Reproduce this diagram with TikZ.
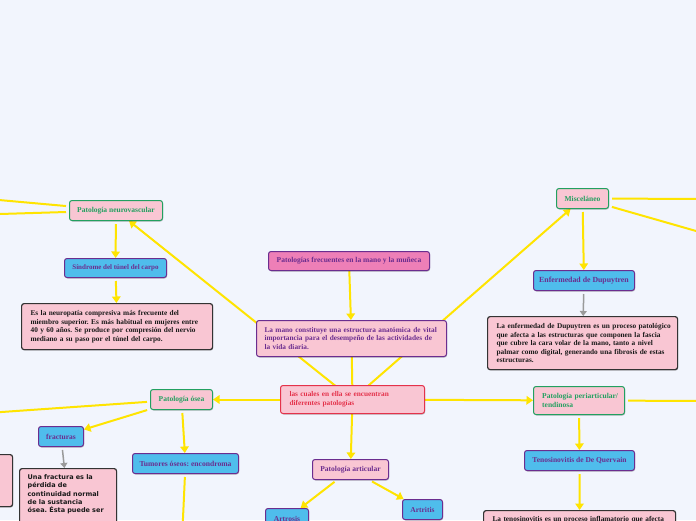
\documentclass[tikz,border=0pt]{standalone}
\usepackage{fontspec}
\setmainfont{Liberation Serif}
\newfontfamily\vsans{DejaVu Sans}
\usetikzlibrary{arrows.meta,shadows}
\definecolor{bgc}{HTML}{F2F5FD}
\definecolor{ylw}{HTML}{FFE400}
\definecolor{pinkf}{HTML}{F9C6D3}
\definecolor{grn}{HTML}{22A060}
\definecolor{bluef}{HTML}{4FBDEC}
\definecolor{purp}{HTML}{6B2D8F}
\definecolor{titlef}{HTML}{EE7FB7}
\definecolor{redc}{HTML}{E4324B}
\definecolor{darkb}{HTML}{333333}
\definecolor{grayc}{HTML}{9A9A9A}
\pgfdeclarelayer{bglayer}
\pgfdeclarelayer{edgelayer}
\pgfsetlayers{bglayer,edgelayer,main}
\frenchspacing
\begin{document}
\begin{tikzpicture}[x=1pt,y=-1pt,
  boxbase/.style={rounded corners=2.5pt, line width=1pt, inner sep=0pt, anchor=north west,
    font=\bfseries\fontsize{7.5}{8.5}\selectfont,
    drop shadow={shadow xshift=0.6pt, shadow yshift=-1pt, opacity=0.25, fill=black}},
  catnode/.style={boxbase, fill=pinkf, draw=grn, text=grn},
  subnode/.style={boxbase, fill=bluef, draw=purp, text=purp},
  purpnode/.style={boxbase, fill=pinkf, draw=purp, text=purp},
  titlenode/.style={boxbase, fill=titlef, draw=purp, text=purp},
  rednode/.style={boxbase, fill=pinkf, draw=redc, text=redc},
  descbox/.style={boxbase, fill=pinkf, draw=darkb, line width=1.2pt, text=black!90},
  multi/.style={align=left, inner xsep=#1, font=\bfseries\fontsize{7.3}{8.5}\selectfont},
  link/.style={draw=ylw, line width=2pt},
  linkarrow/.style={link, -{Triangle[width=8.5pt,length=6.5pt]}},
  grayarrow/.style={draw=grayc, line width=1.5pt, -{Triangle[width=7pt,length=5pt]}}
]
\useasboundingbox (0,0) rectangle (696,520);
\begin{pgfonlayer}{bglayer}
\fill[bgc] (0,0) rectangle (696,520);
\end{pgfonlayer}

% central nodes
\node[titlenode, minimum width=161pt, minimum height=19pt] (title) at (268,251) {Patologías frecuentes en la mano y la muñeca};
\node[purpnode, multi=8pt, text width=174pt, minimum height=36pt] (mano) at (256,320)
  {\mbox{La mano constituye una estructura anatómica de vital}\\\mbox{importancia para el desempeño de las actividades de}\\\mbox{la vida diaria.}};
\node[rednode, multi=9pt, text width=126pt, minimum height=28pt] (cuales) at (280,385)
  {\mbox{las cuales en ella se encuentran}\\\mbox{diferentes patologías}};

% neurovascular branch
\node[catnode, minimum width=93pt, minimum height=20pt] (neuro) at (69,200) {Patología neurovascular};
\node[subnode, minimum width=102pt, minimum height=19pt, font=\bfseries\fontsize{7}{8}\selectfont] (sindrome) at (64,258) {Síndrome del túnel del carpo};
\node[descbox, multi=9pt, text width=173pt, minimum height=46pt] (neurodesc) at (21,303)
  {\mbox{Es la neuropatía compresiva más frecuente del}\\\mbox{miembro superior. Es más habitual en mujeres entre}\\\mbox{40 y 60 años. Se produce por compresión del nervio}\\\mbox{mediano a su paso por el túnel del carpo.}};

% miscelaneo branch
\node[catnode, minimum width=52pt, minimum height=20pt] (misc) at (556,188) {Misceláneo};
\node[subnode, minimum width=101pt, minimum height=20pt, font=\bfseries\fontsize{7.8}{9}\selectfont] (dupuy) at (533,270) {Enfermedad de Dupuytren};
\node[descbox, multi=9pt, text width=172pt, minimum height=53pt] (dupdesc) at (487,316)
  {\mbox{La enfermedad de Dupuytren es un proceso patológico}\\\mbox{que afecta a las estructuras que componen la fascia}\\\mbox{que cubre la cara volar de la mano, tanto a nivel}\\\mbox{palmar como digital, generando una fibrosis de estas}\\\mbox{estructuras.}};

% osea branch
\node[catnode, minimum width=62pt, minimum height=20pt] (osea) at (150,389) {Patología ósea};
\node[subnode, minimum width=45pt, minimum height=20pt] (fract) at (38,426) {fracturas};
\node[subnode, minimum width=106pt, minimum height=20pt, font=\bfseries\fontsize{7.6}{8.5}\selectfont] (tumor) at (132,453) {Tumores óseos: encondroma};
\node[descbox, align=left, inner xsep=8pt, inner ysep=6pt, text width=81pt,
  font=\vsans\bfseries\fontsize{6.5}{8.3}\selectfont] (fracdesc) at (19,468)
  {\mbox{Una fractura es la}\\\mbox{pérdida de}\\\mbox{continuidad normal}\\\mbox{de la sustancia}\\\mbox{ósea. Ésta puede ser}\\\mbox{}\\\mbox{}};
\node[descbox, minimum width=32pt, minimum height=52pt] (leftbox) at (-20,454) {};

% articular branch
\node[purpnode, minimum width=76pt, minimum height=20pt] (articular) at (312,459) {Patología articular};
\node[subnode, minimum width=43pt, minimum height=20pt] (artrosis) at (265,508) {Artrosis};
\node[subnode, minimum width=40pt, minimum height=20pt] (artritis) at (402,499) {Artritis};

% periarticular branch
\node[catnode, align=left, inner xsep=8.7pt, text width=73.6pt, minimum height=28pt] (peri) at (533,386)
  {\mbox{Patología periarticular/}\\\mbox{tendinosa}};
\node[subnode, minimum width=110pt, minimum height=20pt] (teno) at (524,450) {Tenosinovitis de De Quervain};
\node[descbox, multi=9pt, inner ysep=6pt, text width=174pt] (tenodesc) at (483,510)
  {\mbox{La tenosinovitis es un proceso inflamatorio que afecta}\\\mbox{}\\\mbox{}};

% off-canvas ends
\coordinate (nvA) at (-20,198.3);
\coordinate (nvB) at (-20,214.6);
\coordinate (mA) at (716,199);
\coordinate (mB) at (716,236.7);
\coordinate (oA) at (-20,413.5);
\coordinate (pA) at (716,401);
\coordinate (tumorchild) at (182,540);

\begin{pgfonlayer}{edgelayer}
\draw[linkarrow] (title) -- (mano);
\draw[link] (mano.center) -- (cuales.center);
\draw[linkarrow] (cuales.center) -- (neuro);
\draw[linkarrow] (cuales.center) -- (misc);
\draw[linkarrow] (cuales.center) -- (osea);
\draw[linkarrow] (cuales.center) -- (peri);
\draw[linkarrow] (cuales.center) -- (articular);
\draw[linkarrow, shorten <=3pt] (neuro) -- (sindrome);
\draw[linkarrow, shorten <=3pt] (sindrome) -- (neurodesc);
\draw[link, shorten <=3pt] (neuro) -- (nvA);
\draw[link, shorten <=3pt] (neuro) -- (nvB);
\draw[linkarrow, shorten <=3pt] (misc) -- (dupuy);
\draw[grayarrow, shorten <=3pt] (dupuy) -- (dupdesc);
\draw[link, shorten <=3pt] (misc) -- (mA);
\draw[link, shorten <=3pt] (misc) -- (mB);
\draw[link, shorten <=3pt] (osea) -- (oA);
\draw[linkarrow, shorten <=3pt] (osea) -- (fract);
\draw[linkarrow, shorten <=3pt] (osea) -- (tumor);
\draw[grayarrow, shorten <=3pt] (fract) -- (fracdesc);
\draw[link, shorten <=3pt] (tumor) -- (tumorchild);
\draw[linkarrow, shorten <=3pt] (articular) -- (artrosis);
\draw[linkarrow, shorten <=3pt] (articular) -- (artritis);
\draw[link, shorten <=3pt] (peri) -- (pA);
\draw[linkarrow, shorten <=3pt] (peri) -- (teno);
\draw[linkarrow, shorten <=3pt] (teno) -- (tenodesc);
\end{pgfonlayer}
\end{tikzpicture}
\end{document}
